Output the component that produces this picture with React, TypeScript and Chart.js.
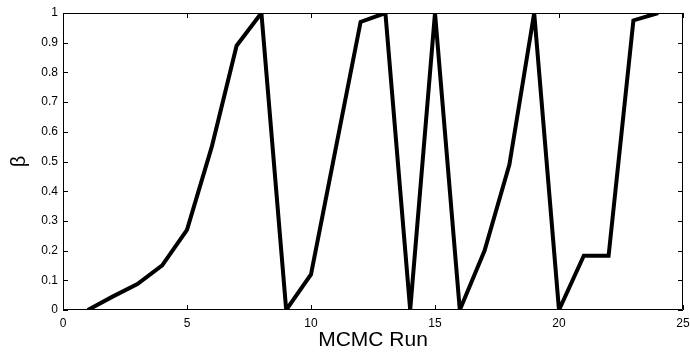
import React, { useEffect, useRef } from "react";
import { Chart, registerables } from "chart.js";

Chart.register(...registerables);

const runs = [1, 2, 3, 4, 5, 6, 7, 8, 9, 10, 11, 12, 13, 14, 15, 16, 17, 18, 19, 20, 21, 22, 23, 24];
const beta = [0, 0.045, 0.087, 0.15, 0.27, 0.55, 0.89, 1.0, 0, 0.12, 0.545, 0.97, 1.0, 0, 1.0, 0, 0.2, 0.49, 1.0, 0, 0.183, 0.183, 0.975, 1.0];
const xTicks = [0, 5, 10, 15, 20, 25];
const yTicks = [0, 0.1, 0.2, 0.3, 0.4, 0.5, 0.6, 0.7, 0.8, 0.9, 1];
const xTitle = "MCMC Run";
const yTitle = "β";

const FONT = "'Liberation Sans', Arial, Helvetica, sans-serif";

const fmt = (v: number) => String(Math.round(v * 10) / 10);

const boxPlugin = {
  id: "boxTicks",
  afterDraw(chart: any) {
    const { ctx, chartArea: a, scales } = chart;
    const x = scales.x;
    const y = scales.y;
    ctx.save();
    ctx.strokeStyle = "#000";
    ctx.lineWidth = 1;
    ctx.beginPath();
    ctx.rect(a.left + 0.5, a.top + 0.5, a.right - a.left - 1, a.bottom - a.top - 1);
    ctx.stroke();
    const L = 5;
    ctx.beginPath();
    xTicks.forEach((v) => {
      const px = Math.round(x.getPixelForValue(v)) + 0.5;
      ctx.moveTo(px, a.bottom);
      ctx.lineTo(px, a.bottom - L);
      ctx.moveTo(px, a.top);
      ctx.lineTo(px, a.top + L);
    });
    yTicks.forEach((v) => {
      const py = Math.round(y.getPixelForValue(v)) + 0.5;
      ctx.moveTo(a.left, py);
      ctx.lineTo(a.left + L, py);
      ctx.moveTo(a.right, py);
      ctx.lineTo(a.right - L, py);
    });
    ctx.stroke();
    ctx.restore();
  },
};

export default function App() {
  const ref = useRef<HTMLCanvasElement>(null);
  useEffect(() => {
    const chart = new Chart(ref.current!, {
      type: "line",
      data: {
        datasets: [
          {
            data: runs.map((r, i) => ({ x: r, y: beta[i] })),
            borderColor: "#000",
            borderWidth: 4,
            pointRadius: 0,
            tension: 0,
            fill: false,
          },
        ],
      },
      options: {
        animation: false,
        responsive: false,
        layout: { padding: { top: 13, right: 7, left: 0, bottom: 0 } },
        plugins: { legend: { display: false }, tooltip: { enabled: false } },
        scales: {
          x: {
            type: "linear",
            min: 0,
            max: 25,
            border: { display: false },
            grid: { display: false, drawTicks: false },
            afterBuildTicks(s: any) {
              s.ticks = xTicks.map((v) => ({ value: v }));
            },
            ticks: {
              color: "#000",
              padding: 6,
              maxRotation: 0,
              autoSkip: false,
              font: { family: FONT, size: 12 },
              callback: (v: any) => fmt(Number(v)),
            },
            title: { display: true, text: xTitle, color: "#000", padding: { top: 0, bottom: 5 }, font: { family: FONT, size: 21 } },
            afterFit(s: any) {
              s.height = 48;
              s.paddingLeft = 0;
              s.paddingRight = 0;
            },
          },
          y: {
            min: 0,
            max: 1,
            border: { display: false },
            grid: { display: false, drawTicks: false },
            afterBuildTicks(s: any) {
              s.ticks = yTicks.map((v) => ({ value: v }));
            },
            ticks: {
              color: "#000",
              padding: 5,
              autoSkip: false,
              font: { family: FONT, size: 12 },
              callback: (v: any) => fmt(Number(v)),
            },
            title: { display: true, text: yTitle, color: "#000", padding: { top: 7, bottom: 0 }, font: { family: FONT, size: 20 } },
            afterFit(s: any) {
              s.width = 63;
              s.paddingTop = 0;
              s.paddingBottom = 0;
            },
          },
        },
      },
      plugins: [boxPlugin],
    });
    return () => chart.destroy();
  }, []);
  return (
    <div style={{ position: "fixed", left: 0, top: 0, width: 690, height: 358, background: "#fff" }}>
      <canvas ref={ref} width={690} height={358} />
    </div>
  );
}
